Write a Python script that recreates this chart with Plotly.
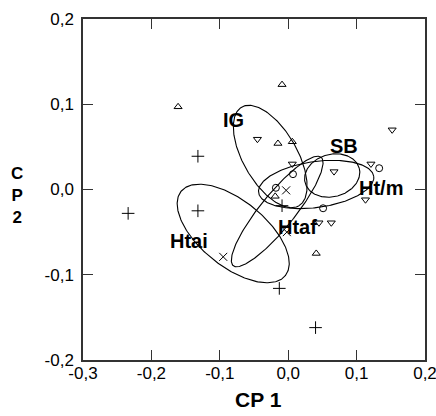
import numpy as np
import plotly.graph_objects as go

# ---- data ----
ig_x = [-0.161, -0.009, -0.015, 0.006, 0.041, -0.019]
ig_y = [0.097, 0.123, 0.054, 0.056, -0.075, -0.008]

sb_x = [-0.045, 0.152, 0.006, 0.067, 0.121, 0.113, 0.045, 0.063]
sb_y = [0.059, 0.070, 0.030, 0.021, 0.030, -0.012, -0.039, -0.039]

htm_x = [0.007, 0.133, -0.018, 0.051]
htm_y = [0.018, 0.025, 0.002, -0.022]

htai_x = [-0.234, -0.132, -0.132, -0.009, -0.013, 0.040]
htai_y = [-0.028, 0.039, -0.025, -0.019, -0.116, -0.162]

htaf_x = [-0.095, -0.003, -0.002]
htaf_y = [-0.079, -0.001, -0.050]

# ellipse parameters: centre (CP1, CP2), semi-axes (CP1 units), on-screen angle (deg)
ell_names = ["IG", "SB", "Ht/m", "Htai", "Htaf"]
ell_cx = [-0.0263, 0.0643, 0.0409, -0.0804, -0.0161]
ell_cy = [0.0387, 0.0164, 0.0059, -0.0516, -0.0258]
ell_a = [0.0834, 0.041, 0.085, 0.098, 0.102]
ell_b = [0.0395, 0.031, 0.0336, 0.048, 0.025]
ell_ang = [-60, 15, 8, -39, 51]

tick_vals_x = [-0.3, -0.2, -0.1, 0.0, 0.1, 0.2]
tick_text_x = ["-0,3", "-0,2", "-0,1", "0,0", "0,1", "0,2"]
tick_vals_y = [-0.2, -0.1, 0.0, 0.1, 0.2]
tick_text_y = ["-0,2", "-0,1", "0,0", "0,1", "0,2"]

x_title = "CP 1"
y_title = "C<br>P<br>2"

# ---- layout geometry ----
W, H = 436, 416
ML, MR, MT, MB = 83, 11, 19, 56
XR = [-0.3, 0.2]
YR = [-0.2, 0.2]
pw, ph = W - ML - MR, H - MT - MB
kx = pw / (XR[1] - XR[0])
ky = ph / (YR[1] - YR[0])

FONT = "Arial, Liberation Sans, Helvetica, sans-serif"

fig = go.Figure()

t = np.linspace(0, 2 * np.pi, 240)
for cx, cy, a, b, ang in zip(ell_cx, ell_cy, ell_a, ell_b, ell_ang):
    phi = np.deg2rad(ang)
    ex = cx + a * np.cos(t) * np.cos(phi) - b * np.sin(t) * np.sin(phi)
    ey_s = a * np.cos(t) * np.sin(phi) + b * np.sin(t) * np.cos(phi)
    ey = cy + ey_s * kx / ky
    fig.add_trace(go.Scatter(x=ex, y=ey, mode="lines",
                             line=dict(color="black", width=1.1),
                             hoverinfo="skip", showlegend=False))

groups = [
    (ig_x, ig_y, "triangle-up-open", 7),
    (sb_x, sb_y, "triangle-down-open", 7),
    (htm_x, htm_y, "circle-open", 7),
    (htai_x, htai_y, "cross-thin-open", 9),
    (htaf_x, htaf_y, "x-thin-open", 8),
]
for gx, gy, sym, sz in groups:
    fig.add_trace(go.Scatter(x=gx, y=gy, mode="markers",
                             marker=dict(symbol=sym, size=sz, color="black",
                                         line=dict(color="black", width=1)),
                             showlegend=False))

label_pos = {
    "IG": (-0.080, 0.082),
    "SB": (0.082, 0.051),
    "Ht/m": (0.136, 0.002),
    "Htai": (-0.145, -0.060),
    "Htaf": (0.014, -0.044),
}
for name in ell_names:
    lx, ly = label_pos[name]
    fig.add_annotation(x=lx, y=ly, text="<b>%s</b>" % name, showarrow=False,
                       font=dict(family=FONT, size=20, color="black"),
                       xanchor="center", yanchor="middle")

fig.add_annotation(xref="paper", yref="paper", x=0.512, y=-0.117,
                   text="<b>%s</b>" % x_title, showarrow=False,
                   font=dict(family=FONT, size=21, color="black"),
                   xanchor="center", yanchor="middle")
fig.add_annotation(xref="paper", yref="paper", x=-0.193, y=0.481,
                   text="<b>%s</b>" % y_title, showarrow=False,
                   font=dict(family=FONT, size=17, color="black"),
                   xanchor="center", yanchor="middle")

axis_common = dict(showline=True, linecolor="#333", linewidth=1.5,
                   mirror="allticks", ticks="inside", ticklen=10,
                   tickcolor="#333", tickwidth=1, showgrid=False,
                   zeroline=False, automargin=False, ticklabeloverflow="allow",
                   tickfont=dict(family=FONT, size=17, color="black"))

fig.update_xaxes(range=XR, tickmode="array", tickvals=tick_vals_x,
                 ticktext=tick_text_x, ticklabelstandoff=-3, **axis_common)
fig.update_yaxes(range=YR, tickmode="array", tickvals=tick_vals_y,
                 ticktext=tick_text_y, ticklabelstandoff=4, **axis_common)

fig.update_layout(width=W, height=H,
                  margin=dict(l=ML, r=MR, t=MT, b=MB, pad=0, autoexpand=False),
                  paper_bgcolor="white", plot_bgcolor="white",
                  font=dict(family=FONT, color="black"))

fig.write_html("out.html", config={"displayModeBar": False},
               post_script="document.body.style.margin='0';document.body.style.padding='0';")
